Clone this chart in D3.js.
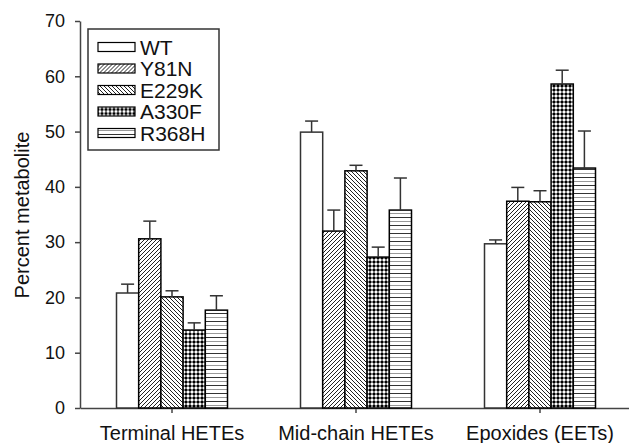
<!DOCTYPE html>
<html>
<head>
<meta charset="utf-8">
<script src="https://cdn.jsdelivr.net/npm/d3@7"></script>
<style>
  body { margin: 0; background: #fff; }
  svg { font-family: "Liberation Sans", Arial, sans-serif; }
</style>
</head>
<body>
<svg id="chart" width="629" height="443"></svg>
<script>
// categories and series
var groups = ["Terminal HETEs", "Mid-chain HETEs", "Epoxides (EETs)"];
var series = ["WT", "Y81N", "E229K", "A330F", "R368H"];

// mean values per series, one per group
var wtValues    = [20.8, 49.9, 29.7];
var y81nValues  = [30.6, 32.0, 37.4];
var e229kValues = [20.1, 42.9, 37.3];
var a330fValues = [14.1, 27.3, 58.6];
var r368hValues = [17.7, 35.8, 43.4];

// upper error (SD) per series
var wtErr    = [1.6, 2.0, 0.7];
var y81nErr  = [3.2, 3.8, 2.5];
var e229kErr = [1.1, 1.0, 2.0];
var a330fErr = [1.3, 1.8, 2.5];
var r368hErr = [2.6, 5.8, 6.7];

var yTicks = [0, 10, 20, 30, 40, 50, 60, 70];

(function() {
    var values = [wtValues, y81nValues, e229kValues, a330fValues, r368hValues];
    var errors = [wtErr, y81nErr, e229kErr, a330fErr, r368hErr];

    var data = [];
    series.forEach(function(s, i) {
        groups.forEach(function(g, j) {
            data.push({ series: s, group: g, value: values[i][j], err: errors[i][j] });
        });
    });

    var svg = d3.select("#chart");
    var plotLeft = 80, plotTop = 21, plotBottom = 408, plotRight = 632;

    var x0 = d3.scaleBand().domain(groups).range([plotLeft, plotRight]).padding(0);
    var groupWidth = 111;
    var x1 = d3.scaleBand().domain(series).range([0, groupWidth]).padding(0);
    var y = d3.scaleLinear().domain([0, 70]).range([plotBottom, plotTop]);

    // patterns
    var defs = svg.append("defs");
    var fills = { WT: "#fff" };

    var p1 = defs.append("pattern").attr("id", "pY81N").attr("patternUnits", "userSpaceOnUse")
        .attr("width", 4).attr("height", 4);
    p1.append("rect").attr("width", 4).attr("height", 4).attr("fill", "#fff");
    p1.append("path").attr("d", "M-1,1 L1,-1 M0,4 L4,0 M3,5 L5,3").attr("stroke", "#222").attr("stroke-width", 1);
    fills.Y81N = "url(#pY81N)";

    var p2 = defs.append("pattern").attr("id", "pE229K").attr("patternUnits", "userSpaceOnUse")
        .attr("width", 4).attr("height", 4);
    p2.append("rect").attr("width", 4).attr("height", 4).attr("fill", "#fff");
    p2.append("path").attr("d", "M-1,3 L1,5 M0,0 L4,4 M3,-1 L5,1").attr("stroke", "#222").attr("stroke-width", 1);
    fills.E229K = "url(#pE229K)";

    // small black crosses on white
    var p3 = defs.append("pattern").attr("id", "pA330F").attr("patternUnits", "userSpaceOnUse")
        .attr("width", 4).attr("height", 4);
    p3.append("rect").attr("width", 4).attr("height", 4).attr("fill", "#fff");
    p3.append("rect").attr("x", 1).attr("y", 0.5).attr("width", 2).attr("height", 3).attr("fill", "#000");
    p3.append("rect").attr("x", 0.5).attr("y", 1).attr("width", 3).attr("height", 2).attr("fill", "#000");
    fills.A330F = "url(#pA330F)";

    var p4 = defs.append("pattern").attr("id", "pR368H").attr("patternUnits", "userSpaceOnUse")
        .attr("width", 8).attr("height", 8);
    p4.append("rect").attr("width", 8).attr("height", 8).attr("fill", "#fff");
    p4.append("rect").attr("x", 0).attr("y", 1).attr("width", 8).attr("height", 1).attr("fill", "#333");
    p4.append("rect").attr("x", 0).attr("y", 5).attr("width", 8).attr("height", 1).attr("fill", "#999");
    fills.R368H = "url(#pR368H)";

    // axes
    var yAxis = svg.append("g")
        .attr("transform", "translate(" + plotLeft + ",0)")
        .call(d3.axisLeft(y).tickValues(yTicks).tickSize(5).tickSizeOuter(0).tickPadding(10));
    yAxis.selectAll("text").style("font-size", "18px").attr("fill", "#111");

    var xAxis = svg.append("g")
        .attr("transform", "translate(0," + plotBottom + ")")
        .call(d3.axisBottom(x0).tickSize(5).tickSizeOuter(0).tickPadding(13));
    xAxis.selectAll("text").style("font-size", "20px").attr("fill", "#111");

    svg.selectAll(".domain, .tick line").attr("stroke", "#444").attr("stroke-width", 1.5);

    // bars
    function barX(d) {
        return x0(d.group) + (x0.bandwidth() - groupWidth) / 2 + x1(d.series);
    }

    svg.append("g").selectAll("rect")
        .data(data)
        .enter()
        .append("rect")
        .attr("x", barX)
        .attr("width", x1.bandwidth())
        .attr("y", function(d) { return y(d.value); })
        .attr("height", function(d) { return y(0) - y(d.value); })
        .attr("fill", function(d) { return fills[d.series]; })
        .attr("stroke", function(d) { return d.series === "WT" ? "#333" : "#000"; })
        .attr("stroke-width", 1.5);

    // error bars (upper only)
    var eb = svg.append("g").attr("stroke", "#333").attr("stroke-width", 1.5);
    eb.selectAll("line.v")
        .data(data)
        .enter()
        .append("line")
        .attr("class", "v")
        .attr("x1", function(d) { return barX(d) + x1.bandwidth() / 2; })
        .attr("x2", function(d) { return barX(d) + x1.bandwidth() / 2; })
        .attr("y1", function(d) { return y(d.value); })
        .attr("y2", function(d) { return y(d.value + d.err); });
    eb.selectAll("line.cap")
        .data(data)
        .enter()
        .append("line")
        .attr("class", "cap")
        .attr("x1", function(d) { return barX(d) + x1.bandwidth() / 2 - 6.5; })
        .attr("x2", function(d) { return barX(d) + x1.bandwidth() / 2 + 6.5; })
        .attr("y1", function(d) { return y(d.value + d.err); })
        .attr("y2", function(d) { return y(d.value + d.err); });

    // y label
    svg.append("text")
        .attr("transform", "translate(29,215) rotate(-90)")
        .attr("text-anchor", "middle")
        .style("font-size", "20px")
        .attr("fill", "#111")
        .text("Percent metabolite");

    // legend
    var legend = svg.append("g");
    legend.append("rect")
        .attr("x", 88).attr("y", 29).attr("width", 131).attr("height", 121)
        .attr("fill", "#fff").attr("stroke", "#333").attr("stroke-width", 1.5);

    var rows = legend.selectAll("g.row")
        .data(series)
        .enter()
        .append("g")
        .attr("class", "row")
        .attr("transform", function(d, i) { return "translate(0," + (47 + i * 21.5) + ")"; });
    rows.append("rect")
        .attr("x", 98).attr("y", -4.5).attr("width", 37).attr("height", 9)
        .attr("fill", function(d) { return fills[d]; })
        .attr("stroke", "#000").attr("stroke-width", 1.2);
    rows.append("text")
        .attr("x", 140).attr("dy", "0.36em")
        .style("font-size", "21px")
        .attr("fill", "#111")
        .text(function(d) { return d; });
})();
</script>
</body>
</html>
